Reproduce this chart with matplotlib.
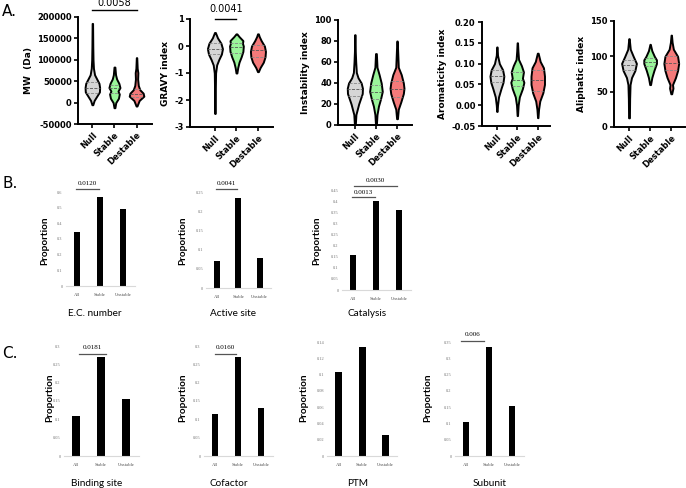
import numpy as np
import matplotlib.pyplot as plt

W, H = 686, 488
plt.rcParams['axes.unicode_minus'] = False

# ---- panel A: violin profiles (value, half-width) ----
groups = ["Null", "Stable", "Destable"]
violin_colors = ["#d6d6d6", "#9af59a", "#f47a7a"]

mw_y = [[-5000, 5000, 15000, 25000, 35000, 45000, 55000, 65000, 80000, 100000, 130000, 185000],
        [-12000, 0, 10000, 20000, 27000, 35000, 45000, 55000, 65000, 83000],
        [-8000, 5000, 15000, 22000, 30000, 40000, 55000, 70000, 80000, 105000]]
mw_w = [[0.02, 0.08, 0.2, 0.32, 0.33, 0.3, 0.2, 0.1, 0.05, 0.03, 0.02, 0.01],
        [0.02, 0.06, 0.18, 0.22, 0.16, 0.25, 0.2, 0.1, 0.05, 0.02],
        [0.02, 0.12, 0.33, 0.3, 0.15, 0.08, 0.05, 0.06, 0.03, 0.01]]
mw_q = [[22000, 35000, 48000], [22000, 33000, 42000], [12000, 20000, 32000]]

gravy_y = [[-2.5, -1.5, -1.0, -0.7, -0.5, -0.3, -0.1, 0.1, 0.3, 0.5],
           [-1.0, -0.8, -0.6, -0.4, -0.2, 0.0, 0.1, 0.2, 0.35, 0.45],
           [-0.95, -0.8, -0.6, -0.4, -0.2, 0.0, 0.2, 0.35, 0.45]]
gravy_w = [[0.01, 0.02, 0.03, 0.08, 0.18, 0.3, 0.35, 0.28, 0.12, 0.02],
           [0.02, 0.06, 0.12, 0.22, 0.3, 0.32, 0.28, 0.3, 0.12, 0.02],
           [0.02, 0.1, 0.25, 0.33, 0.35, 0.3, 0.15, 0.06, 0.02]]
gravy_q = [[-0.3, -0.1, 0.1], [-0.25, -0.05, 0.12], [-0.4, -0.15, 0.05]]

instab_y = [[0, 10, 20, 30, 35, 40, 45, 50, 60, 70, 86],
            [0, 10, 18, 25, 32, 40, 48, 55, 68],
            [6, 15, 22, 30, 35, 40, 48, 55, 65, 80]]
instab_w = [[0.02, 0.05, 0.18, 0.35, 0.36, 0.3, 0.15, 0.07, 0.04, 0.02, 0.01],
            [0.02, 0.05, 0.12, 0.22, 0.3, 0.25, 0.15, 0.05, 0.02],
            [0.02, 0.06, 0.18, 0.3, 0.33, 0.3, 0.2, 0.06, 0.04, 0.01]]
instab_q = [[28, 34, 40], [25, 31, 38], [27, 34, 42]]

arom_y = [[-0.015, 0.0, 0.02, 0.04, 0.055, 0.07, 0.085, 0.1, 0.12, 0.14],
          [-0.025, 0.0, 0.02, 0.04, 0.055, 0.065, 0.08, 0.095, 0.11, 0.13, 0.15],
          [-0.03, -0.01, 0.01, 0.03, 0.05, 0.07, 0.09, 0.105, 0.125]]
arom_w = [[0.01, 0.03, 0.08, 0.2, 0.3, 0.34, 0.28, 0.12, 0.03, 0.01],
          [0.01, 0.04, 0.1, 0.25, 0.32, 0.25, 0.3, 0.2, 0.06, 0.03, 0.01],
          [0.01, 0.04, 0.1, 0.25, 0.33, 0.33, 0.28, 0.12, 0.02]]
arom_q = [[0.055, 0.07, 0.085], [0.045, 0.06, 0.08], [0.035, 0.06, 0.085]]

aliph_y = [[13, 40, 60, 70, 80, 90, 100, 110, 125],
           [60, 70, 80, 90, 95, 100, 108, 117],
           [47, 55, 60, 70, 80, 90, 100, 110, 120, 130]]
aliph_w = [[0.02, 0.03, 0.05, 0.12, 0.28, 0.35, 0.2, 0.06, 0.01],
           [0.02, 0.08, 0.18, 0.3, 0.3, 0.2, 0.08, 0.01],
           [0.02, 0.08, 0.06, 0.2, 0.3, 0.35, 0.3, 0.1, 0.04, 0.01]]
aliph_q = [[80, 88, 95], [86, 92, 98], [80, 90, 100]]

# ---- panels B and C: proportions ----
bar_cats = ["All", "Stable", "Unstable"]
ec_number = [0.345, 0.568, 0.49]
active_site = [0.07, 0.234, 0.078]
catalysis = [0.158, 0.40, 0.36]
binding_site = [0.109, 0.27, 0.155]
cofactor = [0.114, 0.27, 0.13]
ptm = [0.1036, 0.1335, 0.026]
subunit = [0.104, 0.335, 0.153]

fig = plt.figure(figsize=(W / 100, H / 100), dpi=100)


def px_axes(l, t, r, b):
    return fig.add_axes([l / W, 1 - b / H, (r - l) / W, (b - t) / H])


def violin_panel(rect, ys, ws, qs, ylim, yticks, xlim, ylabel):
    ax = px_axes(*rect)
    for i in range(3):
        y = np.array(ys[i])
        w = np.array(ws[i])
        ax.fill_betweenx(y, i - w, i + w, facecolor=violin_colors[i],
                         edgecolor="black", linewidth=1.4, zorder=2)
        for k, q in enumerate(qs[i]):
            hw = np.interp(q, y, w)
            ax.plot([i - hw, i + hw], [q, q], ls="--", lw=0.6,
                    color="#555555" if k == 1 else "#888888", zorder=3)
    ax.set_ylim(*ylim)
    ax.set_xlim(*xlim)
    ax.set_yticks(yticks)
    ax.set_xticks(range(3))
    ax.set_xticklabels(groups, rotation=45, ha="right", rotation_mode="anchor",
                       fontsize=6, fontweight="bold")
    for lab in ax.get_yticklabels():
        lab.set_fontsize(6)
        lab.set_fontweight("bold")
    ax.tick_params(width=1.2, length=3, pad=1.5)
    for s in ["top", "right"]:
        ax.spines[s].set_visible(False)
    for s in ["left", "bottom"]:
        ax.spines[s].set_linewidth(1.4)
    ax.set_ylabel(ylabel, fontsize=6.5, fontweight="bold", labelpad=3)
    return ax


ax = violin_panel((78, 17, 152, 124), mw_y, mw_w, mw_q, (-50000, 200000),
                  [-50000, 0, 50000, 100000, 150000, 200000], (-0.65, 2.7), "MW  (Da)")
ax.plot([0, 2], [216000, 216000], color="black", lw=1, clip_on=False)
ax.text(1, 233000, "0.0058", ha="center", va="center", fontsize=7)

ax = violin_panel((190, 19, 273, 127), gravy_y, gravy_w, gravy_q, (-3, 1),
                  [-3, -2, -1, 0, 1], (-1.16, 2.7), "GRAVY index")
ax.plot([0, 1], [1.0, 1.0], color="black", lw=1, clip_on=False)
ax.text(0.5, 1.2, "0.0041", ha="center", va="bottom", fontsize=7)

violin_panel((338, 20, 412, 125), instab_y, instab_w, instab_q, (0, 100),
             [0, 20, 40, 60, 80, 100], (-0.8, 2.71), "Instability index")
ax = violin_panel((482, 22, 550, 126), arom_y, arom_w, arom_q, (-0.05, 0.2),
                  [-0.05, 0, 0.05, 0.1, 0.15, 0.2], (-0.73, 2.6), "Aromaticity index")
ax.yaxis.set_major_formatter(plt.FuncFormatter(lambda v, p: f"{v:.2f}"))
violin_panel((614, 21, 685, 127), aliph_y, aliph_w, aliph_q, (0, 150),
             [0, 50, 100, 150], (-0.71, 2.65), "Aliphatic index")


def bar_panel(rect, vals, ymax, step, title, title_x, title_y, prop_x, prop_y):
    ax = px_axes(*rect)
    ax.bar(range(3), vals, width=0.3, color="black", zorder=2)
    ax.set_xlim(-0.5, 2.5)
    ax.set_ylim(0, ymax)
    ticks = np.arange(0, ymax + step / 2, step)
    ax.set_yticks(ticks)
    ax.set_yticklabels(["0"] + [f"{t:g}" for t in ticks[1:]],
                       fontsize=3.2, family="Liberation Serif", color="#777777")
    ax.set_xticks(range(3))
    ax.set_xticklabels(bar_cats, fontsize=3.4, family="Liberation Serif",
                       color="#555555")
    ax.tick_params(axis="x", length=0, pad=5)
    ax.tick_params(axis="y", length=0, pad=2)
    for s in ["top", "right", "left"]:
        ax.spines[s].set_visible(False)
    ax.spines["bottom"].set_color("#d9d9d9")
    ax.spines["bottom"].set_linewidth(0.8)
    fig.text(prop_x / W, 1 - prop_y / H, "Proportion", rotation=90, ha="center",
             va="center", fontsize=7.2, fontweight="bold", family="Lato")
    fig.text(title_x / W, 1 - title_y / H, title, ha="center",
             va="center", fontsize=7.2, family="Lato")
    return ax


def bracket(ax, x0, x1, y, ty, label):
    ax.plot([x0, x1], [y, y], color="#555555", lw=0.9, clip_on=False)
    ax.text((x0 + x1) / 2, ty, label, ha="center", va="center", fontsize=5,
            family="Liberation Serif")


ax = bar_panel((65.5, 192, 134.5, 286), ec_number, 0.6, 0.1, "E.C. number", 95, 313, 45, 241)
bracket(ax, -0.05, 0.95, 0.619, 0.655, "0.0120")
ax = bar_panel((206, 192, 270.5, 288), active_site, 0.25, 0.05, "Active site", 233, 313, 183, 241)
bracket(ax, -0.05, 0.95, 0.258, 0.273, "0.0041")
ax = bar_panel((341.5, 190, 410.5, 290), catalysis, 0.45, 0.05, "Catalysis", 367, 313, 317, 241)
bracket(ax, -0.05, 0.95, 0.4185, 0.441, "0.0013")
bracket(ax, 0.05, 1.9, 0.468, 0.495, "0.0030")

ax = bar_panel((63.5, 346, 138.5, 456), binding_site, 0.3, 0.05, "Binding site", 97, 483, 50, 398)
bracket(ax, 0.1, 1.2, 0.278, 0.295, "0.0181")
ax = bar_panel((203.5, 346, 272.5, 456), cofactor, 0.3, 0.05, "Cofactor", 229, 483, 183, 398)
bracket(ax, 0.0, 0.9, 0.278, 0.295, "0.0160")
ax = bar_panel((327, 342, 397, 456), ptm, 0.14, 0.02, "PTM", 358, 483, 304, 398)
ax = bar_panel((454.5, 342, 523.5, 456), subunit, 0.35, 0.05, "Subunit", 490, 483, 428, 398)
bracket(ax, -0.2, 0.8, 0.353, 0.374, "0.006")

for lab, y in [("A.", 12), ("B.", 184), ("C.", 353)]:
    fig.text(2 / W, 1 - y / H, lab, fontsize=11, va="center", ha="left")

fig.savefig("out.png", dpi=100)
